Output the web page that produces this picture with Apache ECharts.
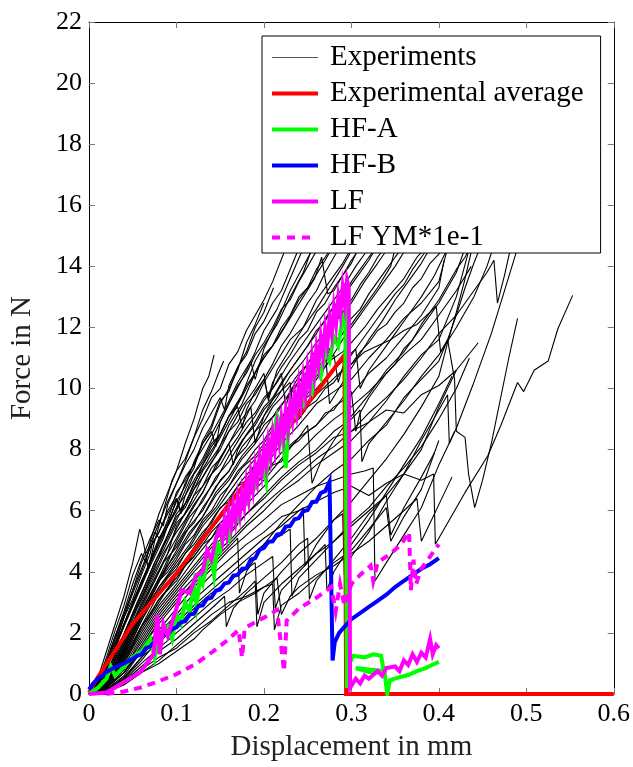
<!DOCTYPE html>
<html><head><meta charset="utf-8">
<script src="https://cdn.jsdelivr.net/npm/echarts@6/dist/echarts.min.js"></script>
<style>html,body{margin:0;padding:0;background:#fff}#c{width:633px;height:767px}</style>
</head><body><div id="c"></div>
<script>
// x tick labels / y tick labels
const xTicks = [0, 0.1, 0.2, 0.3, 0.4, 0.5, 0.6];
const yTicks = [0, 2, 4, 6, 8, 10, 12, 14, 16, 18, 20, 22];
const legendNames = ["Experiments", "Experimental average", "HF-A", "HF-B", "LF", "LF YM*1e-1"];

// Experimental curves: [displacement mm, force N]
const exp01 = [[0,0],[0.01,0.5],[0.02,1.4],[0.03,2.3],[0.04,3.2],[0.05,4.3],[0.058,5.4],[0.062,5.0],[0.068,4.1],[0.075,5.0],[0.085,6.0],[0.095,7.0],[0.1,7.3],[0.11,8.2],[0.12,9.0],[0.13,10.0],[0.137,10.4],[0.143,11.1]];
const exp02 = [[0,0],[0.01,0.4],[0.02,1.1],[0.03,1.9],[0.04,2.6],[0.05,3.4],[0.06,4.3],[0.07,4.9],[0.08,5.6],[0.09,6.3],[0.1,6.9],[0.11,7.6],[0.12,8.4],[0.13,9.3],[0.14,9.9],[0.148,10.5],[0.154,10.9]];
const exp03 = [[0,0],[0.01,0.3],[0.02,0.9],[0.03,1.6],[0.04,2.3],[0.05,3.0],[0.06,3.6],[0.07,4.4],[0.08,5.1],[0.09,5.6],[0.1,6.3],[0.11,6.8],[0.12,7.6],[0.13,8.2],[0.14,8.7],[0.15,9.5],[0.16,10.0],[0.17,10.6],[0.18,11.5],[0.19,12.1],[0.2,12.8]];
const exp04 = [[0,0],[0.01,0.35],[0.02,1.0],[0.03,1.7],[0.04,2.5],[0.05,3.1],[0.06,3.9],[0.07,4.6],[0.075,5.3],[0.08,5.1],[0.09,5.5],[0.1,6.1],[0.11,6.9],[0.12,7.4],[0.13,8.3],[0.14,8.8],[0.15,9.6],[0.16,9.9],[0.17,10.7],[0.18,11.2],[0.19,12.0],[0.2,12.5],[0.211,13.3]];
const exp05 = [[0,0],[0.015,0.5],[0.03,1.5],[0.045,2.6],[0.06,3.6],[0.075,4.6],[0.09,5.5],[0.1,6.0],[0.115,7.0],[0.13,7.7],[0.145,8.6],[0.16,9.5],[0.175,10.3],[0.19,11.2],[0.2,11.9],[0.215,12.6],[0.23,13.6],[0.245,14.6],[0.26,15.5]];
const exp06 = [[0,0],[0.015,0.4],[0.03,1.3],[0.045,2.3],[0.06,3.3],[0.075,4.3],[0.09,5.1],[0.1,5.7],[0.115,6.5],[0.13,7.5],[0.145,8.2],[0.16,9.1],[0.175,9.8],[0.19,10.9],[0.2,11.4],[0.215,12.1],[0.23,13.0],[0.245,13.8],[0.255,14.6],[0.27,15.6]];
const exp07 = [[0,0],[0.015,0.35],[0.03,1.1],[0.045,2.0],[0.06,3.0],[0.075,3.9],[0.09,4.8],[0.1,5.4],[0.115,6.2],[0.13,7.1],[0.145,7.8],[0.16,8.8],[0.175,9.5],[0.19,10.5],[0.2,11.0],[0.215,11.6],[0.23,12.3],[0.245,13.0],[0.258,13.6],[0.266,14.3],[0.27,13.6],[0.273,13.1],[0.28,13.2],[0.29,13.7],[0.3,14.1],[0.31,14.7],[0.32,15.4]];
const exp08 = [[0,0],[0.015,0.3],[0.03,1.0],[0.045,1.9],[0.06,2.8],[0.075,3.7],[0.09,4.6],[0.1,5.1],[0.115,5.9],[0.13,6.6],[0.145,7.5],[0.16,8.2],[0.175,9.0],[0.19,9.6],[0.2,10.2],[0.215,10.9],[0.23,11.6],[0.245,12.0],[0.26,12.9],[0.275,13.5],[0.29,14.1],[0.3,14.6],[0.315,15.4]];
const exp09 = [[0,0],[0.015,0.3],[0.03,0.9],[0.045,1.8],[0.06,2.7],[0.075,3.5],[0.09,4.4],[0.1,4.9],[0.115,5.6],[0.13,6.4],[0.145,7.0],[0.16,7.8],[0.175,8.5],[0.19,9.1],[0.2,9.6],[0.215,10.2],[0.23,10.9],[0.245,11.5],[0.26,12.1],[0.275,12.7],[0.29,13.3],[0.305,14.0],[0.32,14.6],[0.33,15.2]];
const exp10 = [[0,0],[0.015,0.25],[0.03,0.8],[0.045,1.6],[0.06,2.5],[0.075,3.4],[0.09,4.2],[0.1,4.7],[0.115,5.5],[0.13,6.0],[0.145,6.8],[0.16,7.3],[0.175,8.1],[0.19,8.6],[0.2,9.1],[0.215,9.7],[0.23,10.4],[0.245,10.9],[0.26,11.5],[0.275,12.0],[0.29,12.5],[0.3,12.8],[0.315,13.5],[0.33,14.1],[0.342,14.6],[0.355,15.3]];
const exp11 = [[0,0],[0.02,0.4],[0.035,1.1],[0.05,2.0],[0.065,2.9],[0.08,3.7],[0.09,4.1],[0.1,4.5],[0.115,5.2],[0.13,5.8],[0.145,6.5],[0.16,7.0],[0.175,7.7],[0.19,8.2],[0.2,8.6],[0.215,9.3],[0.23,9.8],[0.245,10.4],[0.26,10.9],[0.275,11.3],[0.29,11.8],[0.3,12.1],[0.315,12.7],[0.33,13.3],[0.345,14.0],[0.35,14.6],[0.365,15.3]];
const exp12 = [[0,0],[0.02,0.35],[0.035,1.0],[0.05,1.8],[0.065,2.7],[0.08,3.5],[0.1,4.3],[0.115,4.9],[0.13,5.6],[0.145,6.1],[0.16,6.8],[0.175,7.4],[0.19,7.8],[0.2,8.2],[0.215,8.9],[0.23,9.4],[0.245,9.9],[0.26,10.4],[0.275,10.9],[0.29,11.2],[0.3,11.5],[0.315,12.0],[0.33,12.6],[0.345,13.1],[0.36,13.6],[0.375,14.3],[0.385,14.6],[0.4,15.2]];
const exp13 = [[0,0],[0.02,0.3],[0.035,0.9],[0.05,1.7],[0.065,2.5],[0.08,3.3],[0.1,4.0],[0.115,4.6],[0.13,5.2],[0.145,5.9],[0.16,6.4],[0.175,7.0],[0.19,7.5],[0.2,7.8],[0.215,8.4],[0.23,8.9],[0.245,9.3],[0.26,9.8],[0.275,10.2],[0.29,10.6],[0.3,10.8],[0.315,11.2],[0.33,11.4],[0.345,11.6],[0.36,11.9],[0.375,12.1],[0.39,12.5],[0.397,12.7],[0.402,11.2],[0.41,11.6],[0.418,10.3],[0.42,8.6],[0.43,8.4],[0.434,7.2],[0.441,6.1],[0.45,7.0],[0.46,8.2],[0.47,9.6],[0.48,11.0],[0.49,12.3]];
const exp14 = [[0,0],[0.02,0.3],[0.04,1.1],[0.06,2.2],[0.08,3.1],[0.1,3.8],[0.12,4.6],[0.14,5.4],[0.16,6.1],[0.18,6.9],[0.2,7.4],[0.22,8.2],[0.24,8.8],[0.26,9.5],[0.28,9.9],[0.3,10.3],[0.32,11.0],[0.34,11.6],[0.36,12.3],[0.38,12.8],[0.4,13.5],[0.41,14.6],[0.42,15.3]];
const exp15 = [[0,0],[0.02,0.25],[0.04,1.0],[0.06,2.0],[0.08,2.9],[0.1,3.6],[0.12,4.4],[0.14,5.1],[0.16,5.8],[0.18,6.4],[0.2,7.0],[0.22,7.7],[0.24,8.4],[0.26,8.8],[0.28,9.4],[0.3,9.8],[0.32,10.5],[0.34,11.0],[0.36,11.7],[0.38,12.4],[0.4,13.3],[0.406,14.2]];
const exp16 = [[0,0],[0.02,0.2],[0.04,0.9],[0.06,1.9],[0.08,2.8],[0.1,3.5],[0.12,4.2],[0.14,4.9],[0.16,5.5],[0.18,6.2],[0.2,6.8],[0.22,7.4],[0.24,7.9],[0.26,8.5],[0.28,9.0],[0.3,9.4],[0.32,9.9],[0.34,10.5],[0.36,11.1],[0.38,11.6],[0.4,12.4],[0.42,13.2],[0.437,14.0]];
const exp17 = [[0,0],[0.02,0.2],[0.04,0.8],[0.06,1.7],[0.08,2.6],[0.1,3.3],[0.12,4.0],[0.14,4.6],[0.16,5.2],[0.18,5.9],[0.2,6.4],[0.22,7.0],[0.24,7.5],[0.26,7.9],[0.28,8.4],[0.3,8.6],[0.32,8.9],[0.34,9.3],[0.36,9.2],[0.38,9.8],[0.4,10.1],[0.42,10.6],[0.445,11.5]];
const exp18 = [[0,0],[0.02,0.2],[0.04,0.7],[0.06,1.6],[0.08,2.5],[0.1,3.2],[0.12,3.8],[0.14,4.5],[0.16,5.0],[0.18,5.6],[0.2,6.2],[0.22,6.7],[0.24,7.2],[0.26,7.7],[0.28,8.1],[0.3,8.6],[0.32,9.2],[0.34,9.7],[0.36,10.3],[0.38,11.0],[0.4,11.8],[0.42,12.4],[0.44,13.2],[0.455,13.8],[0.463,14.2],[0.467,12.8],[0.475,13.7],[0.482,14.6],[0.49,15.2]];
const exp19 = [[0,0],[0.02,0.2],[0.04,0.7],[0.06,1.5],[0.08,2.3],[0.1,3.0],[0.12,3.7],[0.14,4.3],[0.16,4.9],[0.18,5.5],[0.2,6.0],[0.22,6.6],[0.24,7.0],[0.26,7.5],[0.28,7.9],[0.3,8.3],[0.32,8.9],[0.34,9.6],[0.36,10.4],[0.38,11.1],[0.4,11.6],[0.42,13.0],[0.435,14.6],[0.445,15.3]];
const exp20 = [[0,0],[0.02,0.15],[0.04,0.6],[0.06,1.4],[0.08,2.1],[0.1,2.8],[0.12,3.5],[0.14,4.1],[0.16,4.7],[0.18,5.2],[0.2,5.7],[0.22,6.2],[0.24,6.5],[0.26,6.8],[0.28,7.0],[0.3,7.2],[0.315,7.3],[0.325,7.4],[0.327,3.7],[0.34,4.3],[0.36,5.2],[0.38,6.1],[0.4,7.5],[0.42,8.7],[0.44,10.2],[0.46,11.8],[0.475,13.2],[0.49,14.6],[0.5,15.3]];
const exp21 = [[0,0],[0.02,0.15],[0.04,0.5],[0.06,1.2],[0.08,2.0],[0.1,2.6],[0.12,3.3],[0.14,3.9],[0.16,4.4],[0.18,4.9],[0.2,5.3],[0.22,5.8],[0.24,6.0],[0.26,6.3],[0.28,6.6],[0.3,6.8],[0.32,6.5],[0.34,6.9],[0.36,7.2],[0.38,7.0],[0.394,7.2],[0.396,4.9],[0.41,5.6],[0.43,6.6],[0.456,7.8],[0.471,8.8],[0.49,10.2],[0.497,9.9],[0.509,10.6],[0.525,10.9],[0.536,11.95],[0.553,13.05]];
const exp22 = [[0,0],[0.02,0.1],[0.04,0.4],[0.06,0.8],[0.08,1.2],[0.1,1.5],[0.12,2.0],[0.14,2.4],[0.16,2.9],[0.18,3.4],[0.19,3.7],[0.192,2.2],[0.2,3.0],[0.22,3.6],[0.24,4.1],[0.26,4.6],[0.28,5.0],[0.3,5.5],[0.32,6.0],[0.34,6.5],[0.36,7.2],[0.38,8.0],[0.4,9.4],[0.42,10.6]];
const exp23 = [[0,0],[0.02,0.1],[0.04,0.3],[0.06,0.7],[0.08,1.1],[0.1,1.6],[0.12,2.1],[0.14,2.6],[0.16,3.0],[0.18,3.2],[0.2,3.5],[0.21,3.6],[0.212,2.1],[0.22,2.9],[0.24,3.3],[0.26,3.8],[0.28,4.3],[0.3,4.7],[0.32,5.4],[0.34,6.1],[0.345,5.0],[0.36,5.8],[0.38,6.7],[0.4,8.3]];
const exp24 = [[0,0],[0.01,0.3],[0.02,0.9],[0.035,1.9],[0.05,3.0],[0.065,4.0],[0.08,5.0],[0.09,5.7],[0.1,6.6],[0.11,7.0],[0.125,7.8],[0.14,8.5],[0.155,9.3],[0.17,10.2],[0.185,10.9],[0.19,10.3],[0.2,11.3],[0.215,12.2],[0.23,13.2],[0.245,14.0],[0.26,14.8],[0.27,15.4]];
const exp25 = [[0,0],[0.01,0.3],[0.025,1.2],[0.04,2.2],[0.055,3.2],[0.07,4.2],[0.085,5.1],[0.1,6.4],[0.105,5.9],[0.12,6.9],[0.135,7.6],[0.15,8.4],[0.165,9.2],[0.18,10.0],[0.195,10.8],[0.21,11.4],[0.225,12.1],[0.24,12.9],[0.255,13.5],[0.27,14.2],[0.28,14.7],[0.29,15.3]];
const exp26 = [[0,0],[0.015,0.4],[0.03,1.3],[0.045,2.3],[0.06,3.1],[0.075,4.1],[0.09,5.2],[0.1,5.9],[0.115,6.4],[0.13,7.3],[0.145,7.9],[0.16,8.6],[0.175,9.4],[0.19,10.0],[0.2,10.5],[0.205,9.6],[0.215,10.6],[0.23,11.3],[0.245,12.0],[0.26,12.6],[0.275,13.3],[0.29,14.0],[0.3,14.5],[0.31,15.1]];
const exp27 = [[0,0],[0.015,0.3],[0.03,1.0],[0.045,1.9],[0.06,2.9],[0.075,3.8],[0.09,4.6],[0.1,5.5],[0.115,6.1],[0.13,6.8],[0.145,7.4],[0.16,8.2],[0.175,8.8],[0.185,9.4],[0.19,8.2],[0.2,9.1],[0.215,9.9],[0.23,10.6],[0.245,11.2],[0.26,11.8],[0.275,12.5],[0.29,13.0],[0.305,13.6],[0.32,14.2],[0.33,14.7],[0.34,15.3]];
const exp28 = [[0,0],[0.015,0.3],[0.03,0.9],[0.045,1.7],[0.06,2.6],[0.075,3.4],[0.09,4.3],[0.1,5.0],[0.115,5.8],[0.13,6.3],[0.145,7.1],[0.16,7.6],[0.175,8.3],[0.19,8.8],[0.2,9.3],[0.215,9.8],[0.23,10.2],[0.235,8.9],[0.245,9.6],[0.26,10.3],[0.275,10.9],[0.29,11.6],[0.305,12.2],[0.32,12.8],[0.335,13.4],[0.35,14.0],[0.365,14.7],[0.375,15.3]];
const exp29 = [[0,0],[0.02,0.4],[0.035,1.2],[0.05,2.1],[0.065,3.0],[0.08,3.8],[0.1,4.6],[0.115,5.3],[0.13,5.8],[0.145,6.6],[0.16,7.1],[0.175,7.8],[0.19,8.3],[0.2,8.8],[0.215,9.2],[0.23,9.9],[0.245,10.4],[0.26,10.9],[0.27,11.3],[0.275,9.5],[0.29,10.2],[0.305,10.9],[0.32,11.6],[0.335,12.2],[0.35,12.9],[0.365,13.5],[0.38,14.1],[0.39,14.6],[0.4,15.2]];
const exp30 = [[0,0],[0.02,0.3],[0.035,1.0],[0.05,1.9],[0.065,2.8],[0.08,3.5],[0.1,4.2],[0.115,4.8],[0.13,5.5],[0.145,6.0],[0.16,6.6],[0.175,7.2],[0.19,7.7],[0.2,8.1],[0.215,8.6],[0.23,9.0],[0.245,9.6],[0.26,10.0],[0.275,10.5],[0.29,10.9],[0.305,11.3],[0.31,10.0],[0.32,10.6],[0.335,11.2],[0.35,11.8],[0.365,12.4],[0.38,13.0],[0.395,13.7],[0.405,14.3],[0.412,14.7],[0.42,15.2]];
const exp31 = [[0,0],[0.02,0.25],[0.04,1.0],[0.06,2.1],[0.08,3.0],[0.1,3.9],[0.12,4.5],[0.14,5.3],[0.16,5.9],[0.18,6.6],[0.2,7.2],[0.22,7.9],[0.24,8.4],[0.25,8.8],[0.255,6.9],[0.265,7.6],[0.28,8.3],[0.3,9.1],[0.32,9.8],[0.34,10.6],[0.36,11.2],[0.38,12.0],[0.4,12.8],[0.42,13.8],[0.43,14.6],[0.44,15.2]];
const exp32 = [[0,0],[0.02,0.2],[0.04,0.8],[0.06,1.8],[0.08,2.7],[0.1,3.4],[0.12,4.1],[0.14,4.8],[0.16,5.3],[0.18,5.9],[0.2,6.5],[0.22,7.1],[0.24,7.6],[0.26,8.0],[0.28,8.6],[0.3,9.0],[0.31,9.3],[0.312,7.6],[0.32,8.2],[0.34,8.9],[0.36,9.6],[0.38,10.4],[0.4,11.1],[0.42,12.0],[0.44,13.0],[0.455,14.0],[0.462,14.6],[0.47,15.2]];
const exp33 = [[0,0],[0.02,0.2],[0.04,0.7],[0.06,1.5],[0.08,2.4],[0.1,3.1],[0.12,3.6],[0.14,4.2],[0.16,4.8],[0.17,5.1],[0.172,3.3],[0.18,4.0],[0.2,4.9],[0.22,5.6],[0.24,6.2],[0.26,6.8],[0.28,7.3],[0.3,7.7],[0.32,8.3],[0.34,8.8],[0.36,9.7],[0.38,10.3],[0.4,10.9],[0.41,11.6],[0.42,12.4],[0.43,13.3],[0.44,14.1],[0.447,14.6],[0.455,15.2]];
const exp34 = [[0,0],[0.02,0.1],[0.04,0.5],[0.06,1.1],[0.08,1.8],[0.1,2.3],[0.12,2.9],[0.14,3.4],[0.16,3.9],[0.18,4.4],[0.2,4.9],[0.22,5.2],[0.23,5.4],[0.232,3.2],[0.24,3.8],[0.26,4.4],[0.28,5.0],[0.3,5.6],[0.32,6.1],[0.34,6.8],[0.36,7.4],[0.38,8.1],[0.4,9.0],[0.42,10.0],[0.435,11.0]];
const exp35 = [[0,0],[0.02,0.05],[0.04,0.3],[0.06,0.7],[0.08,1.0],[0.1,1.4],[0.12,1.8],[0.13,2.1],[0.15,2.6],[0.17,3.0],[0.19,3.3],[0.2,3.5],[0.215,3.8],[0.22,2.6],[0.23,3.2],[0.24,3.5],[0.26,3.9],[0.28,4.2],[0.3,4.6],[0.32,5.0],[0.34,5.5],[0.36,6.0],[0.375,6.4],[0.38,5.0],[0.39,5.6],[0.4,6.2],[0.415,7.1]];
const exp36 = [[0,0],[0.01,0.4],[0.02,1.2],[0.03,2.1],[0.04,2.9],[0.05,3.9],[0.06,4.6],[0.065,4.3],[0.07,5.0],[0.08,5.9],[0.09,6.6],[0.1,7.3],[0.11,7.7],[0.12,8.4],[0.13,9.0],[0.14,9.7],[0.15,10.0],[0.16,10.8],[0.17,11.2],[0.18,11.9],[0.19,12.4],[0.2,12.9],[0.21,13.5],[0.225,14.6],[0.235,15.3]];
const exp37 = [[0,0],[0.01,0.35],[0.02,1.0],[0.03,1.9],[0.04,2.7],[0.05,3.6],[0.06,4.4],[0.07,5.1],[0.08,5.7],[0.085,5.5],[0.09,6.2],[0.1,6.9],[0.11,7.5],[0.12,8.0],[0.13,8.7],[0.14,9.2],[0.15,9.7],[0.155,9.3],[0.16,10.1],[0.17,10.7],[0.18,11.1],[0.19,11.8],[0.2,12.2],[0.21,12.8],[0.22,13.2],[0.23,13.9],[0.24,14.6],[0.25,15.3]];
const exp38 = [[0,0],[0.01,0.3],[0.02,0.9],[0.03,1.6],[0.04,2.5],[0.05,3.3],[0.06,4.0],[0.07,4.8],[0.08,5.3],[0.09,6.0],[0.1,6.5],[0.11,7.1],[0.12,7.5],[0.13,8.2],[0.14,8.6],[0.145,8.1],[0.15,8.9],[0.16,9.5],[0.17,10.1],[0.18,10.5],[0.19,11.1],[0.2,11.5],[0.21,12.0],[0.22,12.6],[0.23,12.9],[0.24,13.5],[0.25,14.0],[0.262,14.6],[0.275,15.3]];
const exp39 = [[0,0],[0.01,0.25],[0.02,0.8],[0.03,1.5],[0.04,2.3],[0.05,3.0],[0.06,3.7],[0.07,4.3],[0.08,5.0],[0.09,5.5],[0.1,6.1],[0.11,6.5],[0.12,7.2],[0.13,7.6],[0.14,8.2],[0.15,8.5],[0.16,9.1],[0.17,9.4],[0.175,8.7],[0.18,9.3],[0.19,9.9],[0.2,10.3],[0.21,10.8],[0.22,11.4],[0.23,11.8],[0.24,12.3],[0.25,12.8],[0.26,13.2],[0.27,13.8],[0.28,14.3],[0.286,14.6],[0.3,15.3]];
const exp40 = [[0,0],[0.015,0.35],[0.025,0.9],[0.035,1.6],[0.045,2.3],[0.055,3.0],[0.065,3.6],[0.075,4.3],[0.085,4.9],[0.1,5.8],[0.11,6.1],[0.12,6.7],[0.13,7.1],[0.14,7.6],[0.15,8.0],[0.16,8.6],[0.17,8.9],[0.18,9.5],[0.19,9.8],[0.2,10.3],[0.205,9.7],[0.21,10.2],[0.22,10.7],[0.23,11.1],[0.24,11.6],[0.25,11.9],[0.26,12.5],[0.27,12.8],[0.28,13.3],[0.29,13.7],[0.3,14.2],[0.31,14.6],[0.32,15.2]];
const exp41 = [[0,0],[0.015,0.3],[0.025,0.8],[0.035,1.4],[0.045,2.1],[0.055,2.8],[0.065,3.4],[0.075,4.0],[0.085,4.6],[0.1,5.3],[0.11,5.7],[0.12,6.2],[0.13,6.6],[0.14,7.2],[0.15,7.5],[0.16,8.0],[0.17,8.4],[0.18,8.9],[0.19,9.2],[0.2,9.7],[0.21,10.0],[0.22,10.5],[0.225,9.4],[0.23,9.9],[0.24,10.4],[0.25,10.8],[0.26,11.3],[0.27,11.6],[0.28,12.1],[0.29,12.5],[0.3,12.9],[0.31,13.4],[0.32,13.8],[0.33,14.3],[0.338,14.6],[0.35,15.2]];
const exp42 = [[0,0],[0.015,0.25],[0.025,0.7],[0.035,1.3],[0.045,1.9],[0.055,2.6],[0.065,3.2],[0.075,3.7],[0.085,4.3],[0.1,4.8],[0.11,5.3],[0.12,5.6],[0.13,6.1],[0.14,6.5],[0.15,7.0],[0.16,7.3],[0.17,7.8],[0.18,8.1],[0.19,8.6],[0.2,8.9],[0.21,9.4],[0.22,9.7],[0.23,10.1],[0.24,10.5],[0.25,10.8],[0.255,10.1],[0.26,10.6],[0.27,11.0],[0.28,11.5],[0.29,11.8],[0.3,12.3],[0.31,12.6],[0.32,13.1],[0.33,13.5],[0.34,13.9],[0.35,14.3],[0.358,14.6],[0.37,15.2]];
const exp43 = [[0,0],[0.02,0.35],[0.03,0.8],[0.04,1.4],[0.05,2.0],[0.06,2.6],[0.07,3.1],[0.08,3.7],[0.09,4.0],[0.1,4.4],[0.11,4.9],[0.12,5.2],[0.13,5.7],[0.14,6.0],[0.15,6.5],[0.16,6.8],[0.17,7.3],[0.18,7.6],[0.19,8.0],[0.2,8.3],[0.21,8.8],[0.22,9.0],[0.23,9.5],[0.24,9.8],[0.25,10.2],[0.26,10.5],[0.27,10.9],[0.28,11.1],[0.285,10.2],[0.29,10.7],[0.3,11.1],[0.31,11.5],[0.32,11.9],[0.33,12.3],[0.34,12.7],[0.35,13.1],[0.36,13.4],[0.37,13.9],[0.38,14.3],[0.39,14.7],[0.4,15.2]];
const exp44 = [[0,0],[0.02,0.3],[0.03,0.7],[0.04,1.2],[0.05,1.8],[0.06,2.4],[0.07,2.9],[0.08,3.4],[0.09,3.8],[0.1,4.1],[0.11,4.6],[0.12,4.9],[0.13,5.3],[0.14,5.6],[0.15,6.1],[0.16,6.3],[0.17,6.8],[0.18,7.0],[0.19,7.5],[0.2,7.7],[0.21,8.1],[0.22,8.4],[0.23,8.8],[0.24,9.0],[0.25,9.4],[0.26,9.6],[0.27,10.0],[0.28,10.2],[0.29,10.6],[0.3,10.8],[0.31,11.2],[0.32,11.5],[0.33,11.9],[0.34,12.1],[0.35,12.5],[0.36,12.8],[0.37,13.3],[0.38,13.6],[0.39,14.1],[0.4,14.4],[0.41,14.9],[0.42,15.3]];
const exp45 = [[0,0],[0.02,0.25],[0.03,0.6],[0.04,1.1],[0.05,1.6],[0.06,2.2],[0.07,2.6],[0.08,3.1],[0.09,3.4],[0.1,3.7],[0.11,4.2],[0.12,4.5],[0.13,4.9],[0.14,5.1],[0.15,5.6],[0.16,5.8],[0.17,6.2],[0.18,6.4],[0.19,6.9],[0.2,7.1],[0.21,7.5],[0.22,7.6],[0.23,8.1],[0.24,8.3],[0.25,8.6],[0.26,8.8],[0.27,9.2],[0.28,9.3],[0.29,9.7],[0.3,9.9],[0.305,8.6],[0.31,9.2],[0.32,9.7],[0.33,10.1],[0.34,10.5],[0.35,10.8],[0.36,11.3],[0.37,11.6],[0.38,12.1],[0.39,12.5],[0.4,12.9],[0.41,13.4],[0.42,13.9],[0.43,14.3],[0.437,14.7],[0.445,15.2]];
const exp46 = [[0,0],[0.01,0.35],[0.02,1.0],[0.03,1.8],[0.04,2.6],[0.05,3.4],[0.06,4.1],[0.07,4.8],[0.08,5.3],[0.09,5.9],[0.1,6.4],[0.105,6.0],[0.11,6.5],[0.12,7.0],[0.13,7.5],[0.14,8.1],[0.15,8.5],[0.16,9.1],[0.17,9.5],[0.18,10.1],[0.19,10.5],[0.2,11.1],[0.21,11.4],[0.22,12.0],[0.23,12.4],[0.24,13.0],[0.25,13.3],[0.26,13.9],[0.27,14.3],[0.277,14.6],[0.29,15.3]];
const exp47 = [[0,0],[0.015,0.3],[0.025,0.85],[0.035,1.5],[0.045,2.2],[0.055,2.9],[0.065,3.5],[0.075,4.2],[0.085,4.7],[0.1,5.6],[0.11,5.9],[0.12,6.5],[0.13,6.8],[0.14,7.4],[0.15,7.7],[0.16,8.2],[0.165,7.5],[0.17,8.0],[0.18,8.5],[0.19,8.9],[0.2,9.4],[0.21,9.7],[0.22,10.2],[0.23,10.6],[0.24,11.0],[0.25,11.4],[0.26,11.9],[0.27,12.2],[0.28,12.7],[0.29,13.0],[0.3,13.5],[0.31,13.9],[0.32,14.3],[0.328,14.6],[0.34,15.2]];
const exp48 = [[0,0],[0.02,0.1],[0.04,0.45],[0.06,1.0],[0.08,1.5],[0.1,2.0],[0.12,2.5],[0.14,3.0],[0.16,3.4],[0.18,3.9],[0.2,4.3],[0.21,4.5],[0.213,2.8],[0.22,3.4],[0.24,4.0],[0.26,4.6],[0.27,4.9],[0.272,3.4],[0.28,4.0],[0.3,4.9],[0.32,5.7],[0.34,6.6],[0.36,7.5],[0.38,8.4],[0.4,9.5],[0.415,10.4]];
const exp49 = [[0,0],[0.02,0.15],[0.04,0.55],[0.06,1.2],[0.08,1.7],[0.1,2.2],[0.12,2.8],[0.14,3.3],[0.16,3.7],[0.18,4.1],[0.19,4.3],[0.193,2.6],[0.2,3.3],[0.22,4.0],[0.24,4.6],[0.26,5.1],[0.28,5.7],[0.29,5.9],[0.292,3.9],[0.3,4.5],[0.32,5.3],[0.34,6.3],[0.36,7.2],[0.38,8.3],[0.4,9.3],[0.41,9.8],[0.412,8.2],[0.418,8.6]];
const exp50 = [[0,0],[0.02,0.1],[0.04,0.4],[0.06,0.9],[0.08,1.4],[0.1,1.8],[0.12,2.3],[0.14,2.8],[0.155,3.2],[0.157,2.2],[0.165,2.8],[0.18,3.3],[0.2,3.8],[0.22,4.3],[0.24,4.9],[0.25,5.1],[0.252,3.1],[0.26,3.7],[0.28,4.4],[0.3,5.1],[0.32,5.9],[0.34,6.5],[0.345,5.2],[0.36,6.1],[0.38,7.1],[0.395,7.9]];
const exp51 = [[0,0],[0.02,0.2],[0.04,0.7],[0.06,1.4],[0.08,2.0],[0.1,2.5],[0.12,3.1],[0.14,3.6],[0.16,4.1],[0.18,4.6],[0.2,5.1],[0.22,5.5],[0.24,6.0],[0.245,6.1],[0.247,4.2],[0.26,4.9],[0.28,5.7],[0.3,6.3],[0.32,7.0],[0.34,7.7],[0.36,8.5],[0.38,9.4],[0.4,10.4],[0.41,11.5],[0.42,12.5],[0.43,13.6],[0.438,14.6],[0.445,15.2]];
const experiments = [exp01,exp02,exp03,exp04,exp05,exp06,exp07,exp08,exp09,exp10,exp11,exp12,exp13,exp14,exp15,exp16,exp17,exp18,exp19,exp20,exp21,exp22,exp23,exp24,exp25,exp26,exp27,exp28,exp29,exp30,exp31,exp32,exp33,exp34,exp35,exp36,exp37,exp38,exp39,exp40,exp41,exp42,exp43,exp44,exp45,exp46,exp47,exp48,exp49,exp50,exp51];

const expAverage = [[0,0.05],[0.01,0.55],[0.05,2.3],[0.1,3.95],[0.149,5.8],[0.2,7.7],[0.25,9.5],[0.292,11.1],[0.294,0],[0.6,0]];

const hfA = [[0,0],[0.01,0.2],[0.02,0.5],[0.025,0.9],[0.03,0.6],[0.04,0.9],[0.05,1.2],[0.06,1.4],[0.07,1.8],[0.075,1.2],[0.08,1.9],[0.09,2.2],[0.095,1.8],[0.1,2.6],[0.105,2.3],[0.11,3.0],[0.115,2.7],[0.12,3.6],[0.123,2.9],[0.127,3.8],[0.13,3.6],[0.135,4.3],[0.14,4.5],[0.143,3.9],[0.147,4.9],[0.15,4.7],[0.155,5.4],[0.16,5.1],[0.165,5.9],[0.17,5.7],[0.175,6.5],[0.18,6.3],[0.185,7.0],[0.19,6.8],[0.195,7.6],[0.2,7.4],[0.2025,7.0],[0.205,8.2],[0.21,8.4],[0.215,9.1],[0.22,8.7],[0.225,7.4],[0.228,8.7],[0.23,9.2],[0.235,9.1],[0.24,9.8],[0.245,9.5],[0.25,10.2],[0.255,9.9],[0.26,10.8],[0.265,10.4],[0.27,11.2],[0.275,10.9],[0.28,11.7],[0.285,11.4],[0.29,12.3],[0.293,12.5],[0.295,0.2],[0.298,1.0],[0.302,1.25],[0.315,1.2],[0.325,1.3],[0.334,1.25],[0.337,0.75],[0.32,0.8],[0.305,0.85],[0.32,0.72],[0.338,0.7],[0.341,0.0],[0.344,0.45],[0.355,0.55],[0.365,0.62],[0.375,0.75],[0.385,0.85],[0.392,0.95],[0.4,1.05]];

const hfB = [[0,0.15],[0.005,0.35],[0.01,0.5],[0.015,0.6],[0.02,0.72],[0.03,0.88],[0.04,1.0],[0.05,1.15],[0.055,1.25],[0.06,1.3],[0.065,1.5],[0.07,1.55],[0.075,1.72],[0.08,1.75],[0.085,1.95],[0.09,1.95],[0.095,2.12],[0.1,2.18],[0.105,2.35],[0.11,2.38],[0.115,2.6],[0.12,2.63],[0.125,2.88],[0.13,2.9],[0.135,3.12],[0.14,3.15],[0.145,3.38],[0.15,3.42],[0.155,3.62],[0.16,3.65],[0.165,3.88],[0.17,3.9],[0.175,4.1],[0.18,4.12],[0.185,4.4],[0.19,4.45],[0.195,4.72],[0.2,4.78],[0.205,4.98],[0.21,5.0],[0.215,5.22],[0.22,5.25],[0.225,5.48],[0.23,5.5],[0.235,5.72],[0.24,5.76],[0.245,5.98],[0.25,6.02],[0.255,6.28],[0.26,6.3],[0.265,6.58],[0.27,6.64],[0.275,6.95],[0.277,7.0],[0.2785,1.1],[0.281,1.7],[0.286,2.0],[0.292,2.2],[0.3,2.45],[0.31,2.65],[0.32,2.85],[0.33,3.05],[0.34,3.25],[0.35,3.5],[0.36,3.7],[0.37,3.9],[0.38,4.1],[0.39,4.25],[0.4,4.45]];

const lf = [[0,0],[0.02,0.05],[0.035,0.3],[0.058,0.7],[0.074,1.3],[0.078,2.6],[0.081,1.3],[0.085,2.3],[0.09,1.9],[0.1,2.8],[0.106,3.4],[0.115,3.3],[0.123,3.9],[0.13,4.0],[0.135,4.7],[0.14,4.4],[0.145,5.1],[0.15,5.45],[0.1525,5.05],[0.155,5.7],[0.1575,5.25],[0.16,5.95],[0.1625,5.5],[0.165,6.15],[0.1675,5.7],[0.17,6.4],[0.1725,5.9],[0.175,6.6],[0.1775,6.15],[0.18,6.9],[0.1825,6.4],[0.185,7.2],[0.1875,6.7],[0.19,7.45],[0.1925,7.0],[0.195,7.75],[0.1975,7.25],[0.2,8.0],[0.2025,7.5],[0.205,8.25],[0.2075,7.75],[0.21,8.5],[0.2125,8.0],[0.215,8.75],[0.2175,8.25],[0.22,9.0],[0.2225,8.45],[0.225,9.25],[0.2275,8.7],[0.23,9.5],[0.2325,9.0],[0.235,9.8],[0.2375,9.25],[0.24,10.1],[0.2425,9.55],[0.245,10.35],[0.2475,9.8],[0.25,10.65],[0.2525,10.1],[0.255,11.0],[0.2575,10.45],[0.26,11.3],[0.2625,10.8],[0.265,11.65],[0.2675,11.1],[0.27,11.95],[0.2725,11.45],[0.275,12.3],[0.2775,11.8],[0.28,12.65],[0.2825,12.1],[0.285,12.95],[0.2875,12.45],[0.29,13.3],[0.2925,12.75],[0.295,13.55],[0.297,13.3],[0.2985,0.2],[0.305,0.5],[0.31,0.35],[0.315,0.6],[0.32,0.5],[0.33,0.75],[0.335,0.6],[0.34,0.85],[0.35,0.9],[0.355,0.75],[0.36,1.1],[0.365,0.95],[0.37,1.3],[0.375,1.05],[0.38,1.35],[0.385,1.2],[0.39,1.8],[0.393,1.3],[0.397,1.6],[0.4,1.5]];

const lfYM = [[0.02,0],[0.04,0.08],[0.06,0.22],[0.08,0.42],[0.1,0.65],[0.12,0.95],[0.14,1.35],[0.16,1.8],[0.171,2.1],[0.175,1.2],[0.178,2.15],[0.19,2.35],[0.2,2.5],[0.215,2.75],[0.22,1.5],[0.223,0.75],[0.226,2.4],[0.24,2.8],[0.26,3.15],[0.277,3.5],[0.282,2.7],[0.287,3.6],[0.292,2.9],[0.3,3.6],[0.31,3.9],[0.322,4.2],[0.325,3.7],[0.33,4.3],[0.345,4.6],[0.357,4.9],[0.366,5.3],[0.368,3.4],[0.371,4.4],[0.374,3.6],[0.38,4.1],[0.39,4.5],[0.4,4.9]];

const FONT = "Liberation Serif";
const series = [];
experiments.forEach(d => series.push({
  name: legendNames[0], type: 'line', data: d, showSymbol: false, symbol: 'none',
  lineStyle: { color: '#000', width: 1.1 }, itemStyle: { color: '#000' }, z: 2
}));
function model(name, data, color, type, clip) {
  return { name, type: 'line', data, showSymbol: false, symbol: 'none', clip: clip !== false,
    lineStyle: { color, width: 4, type: type || 'solid', join: 'miter' }, itemStyle: { color }, z: 3 };
}
series.push(model(legendNames[1], expAverage, '#ff0000', 'solid', false));
series.push(model(legendNames[2], hfA, '#00ff00'));
series.push(model(legendNames[3], hfB, '#0000ff'));
series.push(model(legendNames[4], lf, '#ff00ff'));
series.push(model(legendNames[5], lfYM, '#ff00ff', [8, 6]));

// legend icons (line samples inside a 53x14 box; the sample itself is 46 wide)
const ICON_THIN = 'path://M0,0L0,0M53,14L53,14M0,6.5L46,6.5L46,7.5L0,7.5Z';
const ICON_THICK = 'path://M0,0L0,0M53,14L53,14M0,5L46,5L46,9L0,9Z';
const ICON_DASH = 'path://M0,0L0,0M53,14L53,14M0,5L8,5L8,9L0,9ZM15,5L23,5L23,9L15,9ZM30,5L38,5L38,9L30,9Z';
const legendColors = ['#555', '#ff0000', '#00ff00', '#0000ff', '#ff00ff', '#ff00ff'];
const legendIcons = [ICON_THIN, ICON_THICK, ICON_THICK, ICON_THICK, ICON_THICK, ICON_DASH];

const axisCommon = {
  axisLine: { show: true, onZero: false, lineStyle: { color: '#000', width: 1 } },
  axisTick: { show: true, inside: true, length: 6, lineStyle: { color: '#777', width: 1 } },
  splitLine: { show: false }
};
const chart = echarts.init(document.getElementById('c'), null, { renderer: 'canvas' });
chart.setOption({
  animation: false,
  backgroundColor: '#fff',
  grid: { left: 87, right: 19, top: 22, bottom: 71, containLabel: false },
  legend: {
    data: legendNames.map((n, i) => ({ name: n, icon: legendIcons[i], itemStyle: { color: legendColors[i], borderWidth: 0 } })),
    orient: 'vertical', left: 262, top: 36, z: 10,
    backgroundColor: '#fff', borderColor: '#000', borderWidth: 1, borderRadius: 0,
    padding: [7, 17, 1, 10], itemGap: 7, itemWidth: 53, itemHeight: 14,
    selectedMode: false,
    itemStyle: { borderWidth: 0 },
    textStyle: { fontFamily: FONT, fontSize: 29, color: '#000' }
  },
  xAxis: [
    Object.assign({ type: 'value', min: xTicks[0], max: xTicks[xTicks.length-1], interval: 0.1,
      name: 'Displacement in mm', nameLocation: 'middle', nameGap: 39,
      nameTextStyle: { fontFamily: FONT, fontSize: 29, color: '#222' },
      axisLabel: { fontFamily: FONT, fontSize: 26, color: '#000', margin: 7,
        formatter: v => String(+v.toFixed(1)) } }, axisCommon),
    Object.assign({ type: 'value', position: 'top', min: xTicks[0], max: xTicks[xTicks.length-1], interval: 0.1,
      axisLabel: { show: false } }, axisCommon)
  ],
  yAxis: [
    Object.assign({ type: 'value', min: yTicks[0], max: yTicks[yTicks.length-1], interval: 2,
      name: 'Force in N', nameLocation: 'middle', nameGap: 52,
      nameTextStyle: { fontFamily: FONT, fontSize: 29, color: '#222' },
      axisLabel: { fontFamily: FONT, fontSize: 26, color: '#000', margin: 7 } }, axisCommon),
    Object.assign({ type: 'value', position: 'right', min: yTicks[0], max: yTicks[yTicks.length-1], interval: 2,
      axisLabel: { show: false } }, axisCommon)
  ],
  series
});
</script></body></html>
